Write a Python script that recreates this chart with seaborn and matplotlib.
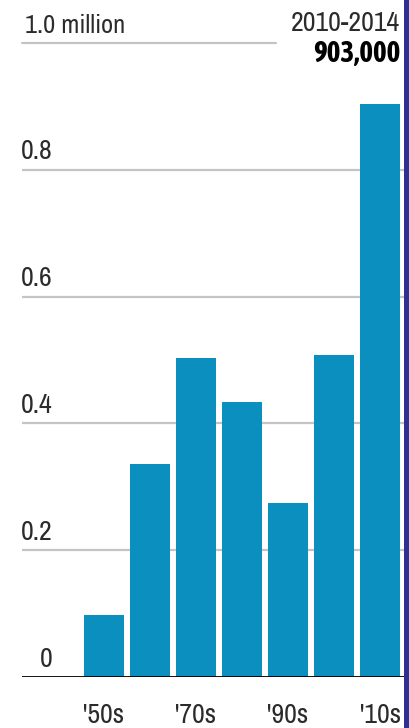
import matplotlib
matplotlib.use("Agg")
import matplotlib.pyplot as plt
from matplotlib import font_manager
from matplotlib.patches import Rectangle
import seaborn as sns
import pandas as pd

# ---- data ----
decades = ["'50s", "'60s", "'70s", "'80s", "'90s", "'00s", "'10s"]
values = [0.098, 0.336, 0.503, 0.434, 0.275, 0.508, 0.903]
shown_ticks = ["'50s", "'70s", "'90s", "'10s"]
ytick_values = [0.0, 0.2, 0.4, 0.6, 0.8]
ytick_labels = ["0", "0.2", "0.4", "0.6", "0.8"]
top_label = "1.0 million"
note_period = "2010-2014"
note_value = "903,000"

df = pd.DataFrame({"decade": decades, "value": values})

sns.set_theme(style="white")

# collect condensed / narrow families and their weights
def wnum(w):
    if isinstance(w, int):
        return w
    return font_manager.weight_dict.get(w, 400)

cands = {}
for f in font_manager.fontManager.ttflist:
    n = f.name
    if "narrow" in n.lower() or "condensed" in n.lower():
        cands.setdefault(n, set()).add((wnum(f.weight), f.style))

def pick(target):
    best = None
    for n in sorted(cands):
        ws = [w for w, s in cands[n] if s == "normal"]
        if not ws:
            continue
        d = min(abs(w - target) for w in ws)
        if best is None or d < best[0]:
            best = (d, n)
    return best[1] if best else "DejaVu Sans"

fam_reg = pick(400)
fam_bold = pick(700)
FONT = dict(family=[fam_reg, "DejaVu Sans"])
BFONT = dict(family=[fam_bold, "DejaVu Sans"], fontweight="bold")
plt.rcParams["font.family"] = [fam_reg, "DejaVu Sans"]

W, H = 410, 728
fig = plt.figure(figsize=(W / 100, H / 100), dpi=100)
ax_left, ax_right = 22, 404
ax_top, ax_bottom = 43, 677
ax = fig.add_axes([ax_left / W, 1 - ax_bottom / H,
                   (ax_right - ax_left) / W, (ax_bottom - ax_top) / H])

bar_color = "#0b8fbe"
sns.barplot(data=df, x="decade", y="value", color=bar_color, saturation=1,
            width=0.87, ax=ax, zorder=2, linewidth=0, edgecolor="none")

ax.set_ylim(0, 1.0)
ax.set_xlim(-1.78, 6.52)
for s in ax.spines.values():
    s.set_visible(False)
ax.set_xlabel("")
ax.set_ylabel("")
ax.set_yticks([])

# gridlines
grid_c = "#c4c4c4"
for v in ytick_values[1:]:
    ax.axhline(v, color=grid_c, lw=1.6, zorder=1)
ax.axhline(1.0, xmin=0, xmax=(276 - ax_left) / (ax_right - ax_left),
           color=grid_c, lw=1.6, zorder=1, clip_on=False)
ax.axhline(0, color="black", lw=1.3, zorder=3)

txt_c = "#2b2b2b"
fs = 20
label_x = (53 - ax_left) / (ax_right - ax_left)
for v, lab in zip(ytick_values, ytick_labels):
    ax.annotate(lab, xy=(label_x, v), xycoords=ax.get_yaxis_transform(),
                xytext=(0, 7.5), textcoords="offset points",
                ha="right", va="baseline", fontsize=fs, color=txt_c, **FONT)
ax.annotate(top_label, xy=((25 - ax_left) / (ax_right - ax_left), 1.0),
            xycoords=ax.get_yaxis_transform(),
            xytext=(0, 7.5), textcoords="offset points",
            ha="left", va="baseline", fontsize=19, color=txt_c,
            annotation_clip=False, **FONT)

# x tick labels
pos = [decades.index(t) for t in shown_ticks]
ax.set_xticks(pos)
ax.set_xticklabels(shown_ticks)
ax.tick_params(axis="x", length=0, pad=18.5, labelsize=fs, labelcolor=txt_c)
for t in ax.get_xticklabels():
    t.set_fontproperties(font_manager.FontProperties(size=fs, family=FONT["family"]))

# annotation top right
fig.text(400 / W, 1 - 31 / H, note_period, ha="right", va="baseline",
         fontsize=fs, color=txt_c, **FONT)
fig.text(400 / W, 1 - 62 / H, note_value, ha="right", va="baseline",
         fontsize=21, color="black", **BFONT)

# navy strip on right edge
fig.patches.append(Rectangle((404 / W, 0), 6 / W, 1, transform=fig.transFigure,
                             facecolor="#2e3094", edgecolor="none", zorder=10))

fig.savefig("out.png", dpi=100)
